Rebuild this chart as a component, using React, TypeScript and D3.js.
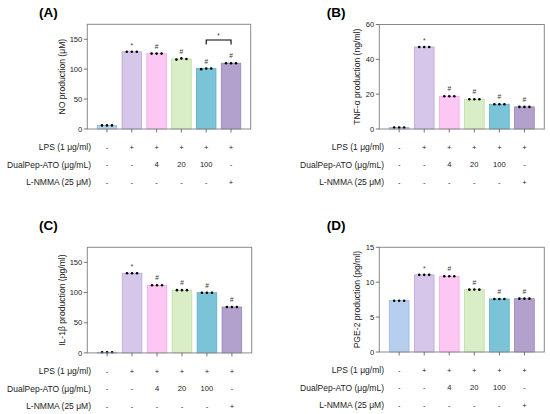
import React from "react";
import * as d3 from "d3";

const groups = ["ctrl", "lps", "dp4", "dp20", "dp100", "lnmma"];
const barColors = ["#b7cfee", "#d6c6ea", "#fdc7f3", "#d9eec6", "#7bc4d8", "#b2a1cd"];
const barStrokes = ["#94b4e0", "#b9a6db", "#f3a6e6", "#bddca4", "#5aaec4", "#9583b8"];

const lpsRow = ["-", "+", "+", "+", "+", "+"];
const dualRow = ["-", "-", "4", "20", "100", "-"];
const nmmaRow = ["-", "-", "-", "-", "-", "+"];
const rowLabels = ["LPS (1 μg/ml)", "DualPep-ATO (μg/mL)", "L-NMMA (25 μM)"];
const marks = ["", "*", "#", "#", "#", "#"];

const noMeans = [6, 129, 126, 117, 101, 110];
const noPoints = [[6, 6, 6], [129, 129, 129], [126, 126, 126], [116, 118, 117], [100, 101, 101], [110, 110, 110]];
const tnfMeans = [0.8, 47.1, 18.8, 17.1, 14.2, 12.7];
const tnfPoints = [[0.8, 0.8, 0.8], [47.1, 47.1, 47.1], [18.8, 18.8, 18.8], [17.1, 17.1, 17.1], [14.2, 14.2, 14.2], [12.7, 12.7, 12.7]];
const ilMeans = [1, 132, 112, 104, 99.7, 76];
const ilPoints = [[1, 1, 1], [132, 132, 132], [112, 112, 112], [104, 104, 104], [99.7, 99.7, 99.7], [76, 76, 76]];
const pgeMeans = [7.35, 11.05, 10.85, 8.93, 7.6, 7.64];
const pgePoints = [[7.35, 7.35, 7.35], [11.05, 11.05, 11.05], [10.85, 10.85, 10.85], [8.93, 8.95, 8.93], [7.6, 7.6, 7.6], [7.64, 7.64, 7.64]];

const noTicks = [0, 50, 100, 150];
const tnfTicks = [0, 20, 40, 60];
const ilTicks = [0, 50, 100, 150];
const pgeTicks = [0, 5, 10, 15];

const FONT = "'Liberation Sans', Arial, Helvetica, sans-serif";

type PanelProps = {
  letter: string;
  letterX: number;
  letterY: number;
  x0: number;
  x1: number;
  y0: number;
  y1: number;
  yMax: number;
  ticks: number[];
  means: number[];
  points: number[][];
  yLabel: string;
  yLabelX: number;
  labelRight: number;
  bracket?: boolean;
};

function Panel(p: PanelProps) {
  const x = d3.scaleBand<string>().domain(groups).range([p.x0, p.x1]).paddingInner(0.214).paddingOuter(0.4);
  const y = d3.scaleLinear().domain([0, p.yMax]).range([p.y1, p.y0]);
  const bw = x.bandwidth();
  const cx = (g: string) => (x(g) as number) + bw / 2;
  const rows = [lpsRow, dualRow, nmmaRow];
  const rowY = [p.y1 + 18.5, p.y1 + 35.8, p.y1 + 53.1];
  return (
    <g fontFamily={FONT}>
      <text x={p.letterX} y={p.letterY} fontSize={13.5} fontWeight="bold" fill="#000">{p.letter}</text>
      {groups.map((g, i) => (
        <rect key={g} x={x(g)} y={y(p.means[i])} width={bw} height={y(0) - y(p.means[i])}
          fill={barColors[i]} stroke={barStrokes[i]} strokeWidth={0.8} />
      ))}
      {groups.map((g, i) =>
        p.points[i].map((v, j) => (
          <circle key={g + j} cx={cx(g) + (j - 1) * 5} cy={y(v)} r={1.3} fill="#000" />
        ))
      )}
      {groups.map((g, i) =>
        marks[i] ? (
          <text key={"m" + g} x={cx(g)} y={y(p.means[i]) - (marks[i] === "*" ? 4 : 5)} fontSize={6.5}
            textAnchor="middle" fill="#333">{marks[i]}</text>
        ) : null
      )}
      {p.bracket ? (
        <g>
          <path d={`M${cx("dp100")},${y(p.means[4]) - 24}V${y(p.means[4]) - 28.5}H${cx("lnmma")}V${y(p.means[4]) - 24}`}
            fill="none" stroke="#000" strokeWidth={1.1} />
          <text x={(cx("dp100") + cx("lnmma")) / 2} y={y(p.means[4]) - 31} fontSize={6.5} textAnchor="middle" fill="#333">*</text>
        </g>
      ) : null}
      <rect x={p.x0} y={p.y0} width={p.x1 - p.x0} height={p.y1 - p.y0} fill="none" stroke="#8a8a8a" strokeWidth={1} />
      {p.ticks.map((t) => (
        <g key={t}>
          <line x1={p.x0 - 3.5} x2={p.x0} y1={y(t)} y2={y(t)} stroke="#555" strokeWidth={0.8} />
          <text x={p.x0 - 5} y={y(t)} dy="0.35em" fontSize={7.6} textAnchor="end" fill="#222">{t}</text>
        </g>
      ))}
      {groups.map((g) => (
        <line key={"t" + g} x1={cx(g)} x2={cx(g)} y1={p.y1} y2={p.y1 + 3.5} stroke="#555" strokeWidth={0.8} />
      ))}
      <text transform={`translate(${p.yLabelX},${(p.y0 + p.y1) / 2}) rotate(-90)`} dy="0.35em" fontSize={8.6}
        textAnchor="middle" fill="#222">{p.yLabel}</text>
      {rows.map((r, ri) => (
        <g key={"r" + ri}>
          <text x={p.labelRight} y={rowY[ri]} dy="0.35em" fontSize={8.5} textAnchor="end" fill="#222">{rowLabels[ri]}</text>
          {groups.map((g, i) => (
            <text key={g} x={cx(g)} y={rowY[ri]} dy="0.35em" fontSize={7.6} textAnchor="middle" fill="#222">{r[i]}</text>
          ))}
        </g>
      ))}
    </g>
  );
}

export default function App() {
  return (
    <svg width={550} height={414} style={{ position: "absolute", left: 0, top: 0, background: "#fff" }}>
      <rect width={550} height={414} fill="#fff" />
      <Panel letter="(A)" letterX={39} letterY={17} x0={87.3} x1={250.7} y0={24.3} y1={129} yMax={175}
        ticks={noTicks} means={noMeans} points={noPoints} yLabel="NO production (μM)" yLabelX={62} labelRight={91} bracket />
      <Panel letter="(B)" letterX={326.7} letterY={17} x0={379.3} x1={544.3} y0={24.5} y1={129} yMax={60}
        ticks={tnfTicks} means={tnfMeans} points={tnfPoints} yLabel="TNF-α production (ng/ml)" yLabelX={357} labelRight={384} />
      <Panel letter="(C)" letterX={39} letterY={230} x0={87.3} x1={251.7} y0={247.3} y1={352.9} yMax={175}
        ticks={ilTicks} means={ilMeans} points={ilPoints} yLabel="IL-1β production (pg/ml)" yLabelX={62} labelRight={91} />
      <Panel letter="(D)" letterX={326.7} letterY={230} x0={379.3} x1={544.3} y0={247.3} y1={352} yMax={15}
        ticks={pgeTicks} means={pgeMeans} points={pgePoints} yLabel="PGE-2 production (pg/ml)" yLabelX={357} labelRight={384} />
    </svg>
  );
}
